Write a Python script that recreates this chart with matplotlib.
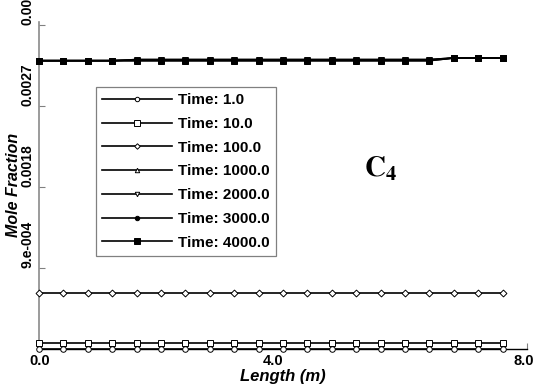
import matplotlib
matplotlib.use("Agg")
import matplotlib.pyplot as plt
import matplotlib.transforms as mtransforms

# ---- data ----
length_m = [0.0, 0.4, 0.8, 1.2, 1.6, 2.0, 2.4, 2.8, 3.2, 3.6,
            4.0, 4.4, 4.8, 5.2, 5.6, 6.0, 6.4, 6.8, 7.2, 7.6]

t_1 = [0.0] * 20
t_10 = [0.00006] * 20
t_100 = [0.00062] * 20
t_1000 = [0.00320] * 4 + [0.003212] * 13 + [0.00323] * 3
t_2000 = [0.00320] * 4 + [0.003212] * 13 + [0.00323] * 3
t_3000 = [0.00320] * 17 + [0.00323] * 3
t_4000 = [0.00320] * 17 + [0.00323] * 3

series = [
    ("Time: 1.0", t_1, "o", "white", 4),
    ("Time: 10.0", t_10, "s", "white", 5),
    ("Time: 100.0", t_100, "D", "white", 3.5),
    ("Time: 1000.0", t_1000, "^", "white", 4),
    ("Time: 2000.0", t_2000, "v", "white", 4),
    ("Time: 3000.0", t_3000, "o", "black", 4),
    ("Time: 4000.0", t_4000, "s", "black", 5),
]

x_ticks = [0.0, 4.0, 8.0]
x_ticklabels = ["0.0", "4.0", "8.0"]
y_ticks = [0.0009, 0.0018, 0.0027, 0.0036]
y_ticklabels = ["9.e-004", "0.0018", "0.0027", "0.0036"]

plt.rcParams["font.family"] = ["Liberation Sans", "DejaVu Sans"]
plt.rcParams["mathtext.fontset"] = "stix"

fig = plt.figure(figsize=(5.36, 3.88), dpi=100)
ax = fig.add_axes([39 / 536, 1 - 348.5 / 388, (527 - 39) / 536, (348.5 - 22) / 388])

handles = []
for label, ys, mk, fc, ms in series:
    h, = ax.plot(length_m, ys, color="black", lw=1.2, marker=mk, markersize=ms,
                 markerfacecolor=fc, markeredgecolor="black", markeredgewidth=0.7,
                 label=label, clip_on=False, zorder=3)
    handles.append(h)

ax.set_xlim(0, 8)
ax.set_ylim(0, 0.00363)

ax.set_xticks(x_ticks)
ax.set_xticklabels(x_ticklabels, fontsize=10.5, fontweight="bold")
ax.set_yticks(y_ticks)
ax.set_yticklabels(y_ticklabels, fontsize=10, fontweight="bold", rotation=90, va="bottom")
ax.tick_params(axis="both", direction="in", length=4, width=0.8, color="#808080")
ax.tick_params(axis="x", pad=4)
ax.tick_params(axis="y", pad=3)
# nudge the x labels like the reference (middle one sits left of its tick, last one fits the edge)
for lbl, dx in zip(ax.get_xticklabels(), [1, -10, -3]):
    lbl.set_transform(lbl.get_transform() + mtransforms.ScaledTranslation(dx / 100, 0, fig.dpi_scale_trans))

for s in ("top", "right"):
    ax.spines[s].set_visible(False)
ax.spines["left"].set_color("#8a8a8a")
ax.spines["left"].set_linewidth(1.2)
ax.spines["bottom"].set_color("black")
ax.spines["bottom"].set_linewidth(1.0)

ax.set_xlabel("Length (m)", fontsize=12, fontweight="bold", fontstyle="italic", labelpad=1)
ax.set_ylabel("Mole Fraction", fontsize=11.5, fontweight="bold", fontstyle="italic")
ax.yaxis.set_label_coords(-0.036, 0.5)

leg = ax.legend(handles=handles, loc="upper left", bbox_to_anchor=(96 / 536, 1 - 87 / 388),
                bbox_transform=fig.transFigure, borderaxespad=0, fancybox=False,
                edgecolor="#808080", framealpha=1, handlelength=4.6, handletextpad=0.4,
                labelspacing=0.64, borderpad=0.4, prop={"weight": "bold", "size": 11},
                markerscale=0.8)
leg.get_frame().set_linewidth(0.9)
leg.set_zorder(5)

fig.text(364 / 536, 1 - 177 / 388, r"$\mathbf{C_4}$", fontsize=21, color="black",
         ha="left", va="baseline")

fig.savefig("out.png", dpi=100)
